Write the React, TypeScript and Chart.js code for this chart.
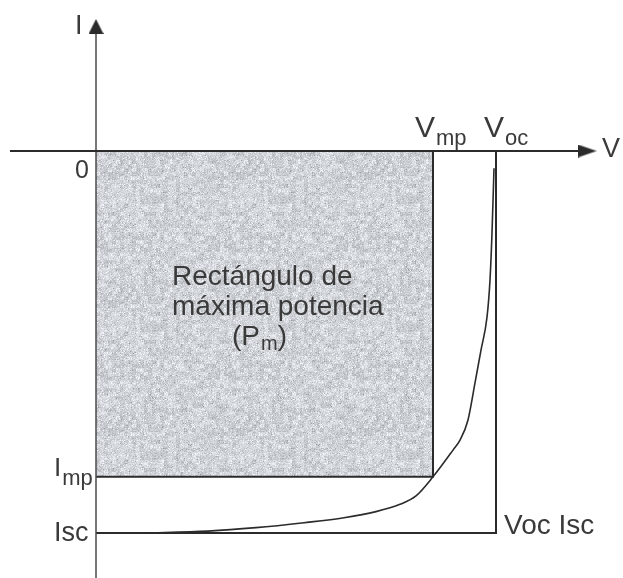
import React, { useEffect, useRef } from "react";
import { Chart, registerables } from "chart.js";

Chart.register(...registerables);

// I–V characteristic of a solar cell, normalised: V in units of Voc, I in units of Isc.
// Current is plotted downward (negative y) below the V axis.
const V_MP = 0.8425;
const I_MP = 0.853;
const V_OC = 1;
const I_SC = 1;

const curveV = [0.1175, 0.28, 0.4, 0.52, 0.62, 0.7, 0.76, 0.8, 0.8425, 0.8925, 0.91, 0.93, 0.9475, 0.9625, 0.9775, 0.985, 0.99, 0.995];
const curveI = [1.0, 0.995, 0.986, 0.973, 0.96, 0.944, 0.925, 0.903, 0.853, 0.783, 0.757, 0.704, 0.607, 0.521, 0.435, 0.338, 0.215, 0.045];

// axis extents (data units)
const X_AXIS_FROM = -0.215;
const X_AXIS_TO = 1.25;
const Y_AXIS_FROM = -1.12;
const Y_AXIS_TO = 0.346;

const labelCaption = ["Rectángulo de", "máxima potencia"];

const FONT = '"Liberation Sans", Arial, Helvetica, sans-serif';
const INK = "#2b2b2b";
const TEXT = "#3a3a3a";

function makeArrow(w: number, h: number): HTMLCanvasElement {
  const c = document.createElement("canvas");
  c.width = w;
  c.height = h;
  const g = c.getContext("2d")!;
  g.fillStyle = INK;
  g.beginPath();
  g.moveTo(w / 2, 0);
  g.lineTo(w, h);
  g.lineTo(0, h);
  g.closePath();
  g.fill();
  return c;
}

// mottled grey fill, built from a small seeded generator
function makeGrain(): CanvasPattern | string {
  const size = 128;
  const c = document.createElement("canvas");
  c.width = size;
  c.height = size;
  const g = c.getContext("2d")!;
  let s = 1234567;
  const rnd = () => {
    s = (s * 1103515245 + 12345) & 0x7fffffff;
    return s / 0x7fffffff;
  };
  const img = g.createImageData(size, size);
  const q = size / 4;
  const coarse: number[] = [];
  for (let i = 0; i < q * q; i++) coarse.push(rnd() - 0.5);
  for (let y = 0; y < size; y++) {
    for (let x = 0; x < size; x++) {
      const k = (y * size + x) * 4;
      const cv = coarse[(y >> 2) * q + (x >> 2)];
      let v = 210 + (rnd() - 0.5) * 36 + cv * 28;
      if (rnd() < 0.05) v += 28;
      if (rnd() < 0.03) v -= 30;
      v = Math.max(150, Math.min(250, v));
      img.data[k] = v - 3;
      img.data[k + 1] = v;
      img.data[k + 2] = v + 4;
      img.data[k + 3] = 255;
    }
  }
  g.putImageData(img, 0, 0);
  const p = g.createPattern(c, "repeat");
  return p || "#d0d2d5";
}

const labelsPlugin = {
  id: "ivLabels",
  afterDatasetsDraw(chart: any) {
    const ctx: CanvasRenderingContext2D = chart.ctx;
    const xs = chart.scales.x;
    const ys = chart.scales.y;
    const px = (v: number) => xs.getPixelForValue(v);
    const py = (v: number) => ys.getPixelForValue(v);
    const x0 = px(0);
    const y0 = py(0);
    const xmp = px(V_MP);
    const xoc = px(V_OC);
    const ymp = py(-I_MP);
    const ysc = py(-I_SC);

    ctx.save();
    ctx.fillStyle = TEXT;
    ctx.textBaseline = "alphabetic";
    ctx.textAlign = "left";
    const t = (s: string, x: number, y: number, size: number) => {
      ctx.font = `${size}px ${FONT}`;
      ctx.fillText(s, x, y);
      return x + ctx.measureText(s).width;
    };

    // axis names
    t("I", x0 - 21, py(Y_AXIS_TO) + 15, 27);
    t("V", px(X_AXIS_TO) + 6, y0 + 6, 27);
    ctx.textAlign = "right";
    t("0", x0 - 7, y0 + 27, 25);
    ctx.textAlign = "left";

    // points on the V axis
    let e = t("V", xmp - 18, y0 - 14, 30);
    t("mp", e + 1, y0 - 6, 22);
    e = t("V", xoc - 12, y0 - 14, 30);
    t("oc", e + 1, y0 - 6, 22);

    // points on the I axis
    e = t("I", x0 - 42, ymp - 1, 26);
    t("mp", e + 1, ymp + 8, 22);
    t("Isc", x0 - 42, ysc + 8, 27);

    // corner of the short-circuit / open-circuit box
    t("Voc Isc", xoc + 8, ysc + 1, 28);

    // caption inside the rectangle
    const cx = x0 + 76;
    t(labelCaption[0], cx, y0 + 134, 28);
    t(labelCaption[1], cx, y0 + 164, 28);
    e = t("(P", cx + 60, y0 + 194, 28);
    e = t("m", e + 1, y0 + 199, 20);
    t(")", e, y0 + 194, 28);
    ctx.restore();
  },
};

export default function App() {
  const ref = useRef<HTMLCanvasElement | null>(null);

  useEffect(() => {
    const canvas = ref.current;
    if (!canvas) return;
    const upArrow = makeArrow(15, 15);
    const rightArrow = makeArrow(13, 19);
    const grain = makeGrain();

    const chart = new Chart(canvas, {
      type: "scatter",
      data: {
        datasets: [
          {
            // maximum power rectangle: filled to I = 0, bordered at Imp and Vmp
            data: [
              { x: 0, y: -I_MP },
              { x: V_MP, y: -I_MP },
              { x: V_MP, y: 0 },
            ],
            showLine: true,
            borderColor: INK,
            borderWidth: 2,
            backgroundColor: grain as any,
            fill: { value: 0 },
            pointRadius: 0,
            order: 5,
          },
          {
            // Isc / Voc bounding lines
            data: [
              { x: 0, y: -I_SC },
              { x: V_OC, y: -I_SC },
              { x: V_OC, y: 0 },
            ],
            showLine: true,
            borderColor: INK,
            borderWidth: 2,
            pointRadius: 0,
            fill: false,
            order: 3,
          },
          {
            // I–V curve
            data: curveV.map((v, i) => ({ x: v, y: -curveI[i] })),
            showLine: true,
            borderColor: INK,
            borderWidth: 1.6,
            pointRadius: 0,
            cubicInterpolationMode: "monotone",
            fill: false,
            order: 2,
          },
          {
            // V axis
            data: [
              { x: X_AXIS_FROM, y: 0 },
              { x: X_AXIS_TO - 0.022, y: 0 },
            ],
            showLine: true,
            borderColor: INK,
            borderWidth: 2,
            pointRadius: [0, 1],
            pointStyle: ["circle", rightArrow] as any,
            rotation: 90,
            fill: false,
            order: 1,
          },
          {
            // I axis
            data: [
              { x: 0, y: Y_AXIS_FROM },
              { x: 0, y: Y_AXIS_TO - 0.02 },
            ],
            showLine: true,
            borderColor: "#4a4a4a",
            borderWidth: 1.5,
            pointRadius: [0, 1],
            pointStyle: ["circle", upArrow] as any,
            fill: false,
            order: 1,
          },
        ],
      },
      options: {
        responsive: false,
        animation: false,
        events: [],
        layout: { padding: 0, autoPadding: false },
        scales: {
          x: { type: "linear", display: false, min: -0.24, max: 1.3175 },
          y: { type: "linear", display: false, min: -1.1178, max: 0.3953 },
        },
        plugins: {
          legend: { display: false },
          tooltip: { enabled: false },
        },
      },
      plugins: [labelsPlugin],
    });
    return () => chart.destroy();
  }, []);

  return (
    <div style={{ position: "fixed", left: 0, top: 0, width: 623, height: 578, background: "#fff" }}>
      <canvas ref={ref} width={623} height={578} style={{ display: "block" }} />
    </div>
  );
}
